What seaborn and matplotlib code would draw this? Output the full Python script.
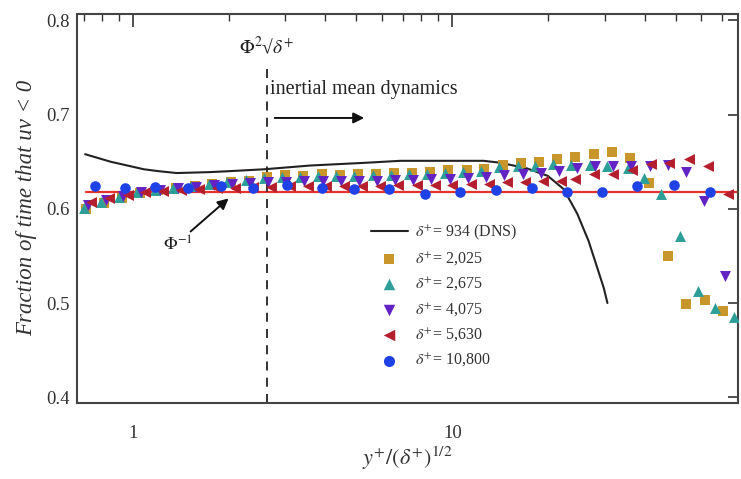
import numpy as np
import pandas as pd
import matplotlib
matplotlib.use("Agg")
import matplotlib.pyplot as plt
import seaborn as sns
from matplotlib.ticker import LogLocator, NullFormatter, FixedLocator, FixedFormatter

sns.set_theme(style="white")
plt.rcParams['font.family'] = ['Liberation Serif', 'DejaVu Serif']
plt.rcParams['mathtext.fontset'] = 'stix'

# ---------------- data ----------------
dns_x = [0.707, 0.85, 1.08, 1.20, 1.37, 1.74, 2.0, 2.57, 3.59, 5.41, 6.87, 9.0, 12.5, 14.1, 17.1, 19.9, 22.3, 24.6, 26.7, 29.8, 30.6]
dns_y = [0.658, 0.650, 0.642, 0.640, 0.638, 0.639, 0.640, 0.642, 0.646, 0.649, 0.651, 0.651, 0.651, 0.649, 0.643, 0.635, 0.621, 0.595, 0.566, 0.516, 0.500]

sq_x = [0.71, 0.81, 0.92, 1.05, 1.20, 1.36, 1.56, 1.77, 2.02, 2.30, 2.63, 2.99, 3.41, 3.89, 4.43,
        5.05, 5.76, 6.57, 7.48, 8.53, 9.72, 11.1, 12.6, 14.4, 16.4, 18.7, 21.3, 24.3, 27.7, 31.7,
        36.1, 41.2, 47.2, 53.8, 61.7, 70.2]
sq_y = [0.600, 0.606, 0.612, 0.617, 0.620, 0.622, 0.624, 0.626, 0.628, 0.630, 0.634, 0.636, 0.635, 0.637, 0.636,
        0.637, 0.637, 0.638, 0.638, 0.639, 0.641, 0.641, 0.642, 0.647, 0.649, 0.650, 0.653, 0.655, 0.658, 0.660,
        0.654, 0.627, 0.550, 0.499, 0.503, 0.491]

tr_x = [0.70, 0.79, 0.90, 1.03, 1.17, 1.33, 1.52, 1.73, 1.97, 2.25, 2.57, 2.92, 3.33, 3.80, 4.33,
        4.93, 5.62, 6.41, 7.31, 8.33, 9.50, 10.8, 12.3, 14.0, 16.0, 18.2, 20.7, 23.6, 26.9, 30.6,
        35.6, 39.7, 44.9, 51.5, 58.6, 66.7, 76.0]
tr_y = [0.601, 0.607, 0.613, 0.618, 0.620, 0.622, 0.624, 0.626, 0.628, 0.631, 0.633, 0.634, 0.634, 0.635, 0.635,
        0.635, 0.636, 0.636, 0.637, 0.637, 0.638, 0.639, 0.640, 0.644, 0.645, 0.646, 0.648, 0.647, 0.647, 0.646,
        0.643, 0.633, 0.616, 0.571, 0.513, 0.495, 0.485]

pu_x = [0.72, 0.82, 0.93, 1.06, 1.21, 1.38, 1.57, 1.79, 2.04, 2.32, 2.65, 3.02, 3.44, 3.92, 4.47,
        5.09, 5.81, 6.62, 7.55, 8.60, 9.80, 11.2, 12.7, 14.5, 16.6, 18.9, 21.5, 24.5, 28.0, 31.9,
        36.4, 41.5, 47.4, 54.1, 61.6, 71.3]
pu_y = [0.604, 0.609, 0.614, 0.618, 0.620, 0.622, 0.623, 0.625, 0.626, 0.627, 0.629, 0.629, 0.630, 0.630, 0.630,
        0.630, 0.630, 0.631, 0.631, 0.632, 0.632, 0.633, 0.634, 0.636, 0.637, 0.638, 0.640, 0.643, 0.645, 0.645,
        0.646, 0.646, 0.647, 0.639, 0.608, 0.529]

rd_x = [0.74, 0.84, 0.96, 1.09, 1.24, 1.41, 1.61, 1.83, 2.09, 2.38, 2.71, 3.09, 3.52, 4.01, 4.57,
        5.21, 5.94, 6.77, 7.72, 8.80, 10.0, 11.4, 13.0, 14.8, 16.9, 19.2, 21.9, 24.3, 27.7, 31.9,
        36.6, 41.8, 47.6, 55.0, 63.3, 73.0]
rd_y = [0.607, 0.611, 0.615, 0.618, 0.619, 0.620, 0.621, 0.622, 0.622, 0.623, 0.623, 0.624, 0.624, 0.624, 0.624,
        0.624, 0.624, 0.625, 0.625, 0.625, 0.625, 0.626, 0.626, 0.628, 0.628, 0.630, 0.630, 0.632, 0.637, 0.637,
        0.641, 0.648, 0.649, 0.653, 0.646, 0.616]

bl_x = [0.76, 0.94, 1.17, 1.48, 1.88, 2.38, 3.04, 3.91, 4.93, 6.35, 8.23, 10.6, 13.7, 17.8, 22.9, 29.5, 38.0, 49.3, 63.9]
bl_y = [0.624, 0.622, 0.623, 0.622, 0.624, 0.622, 0.625, 0.622, 0.621, 0.621, 0.616, 0.618, 0.620, 0.622, 0.618,
        0.618, 0.624, 0.625, 0.618]

phi_inv = 0.618
phi_sq = 2.618

series_labels = [r"$\delta^{+}$= 2,025", r"$\delta^{+}$= 2,675", r"$\delta^{+}$= 4,075",
                 r"$\delta^{+}$= 5,630", r"$\delta^{+}$= 10,800"]
dns_label = r"$\delta^{+}$= 934 (DNS)"

# ---------------- figure ----------------
fig = plt.figure(figsize=(7.41, 4.79), dpi=100)
ax = fig.add_axes([0.104, 0.159, 0.892, 0.812])

# reference lines
ax.plot([0.71, 85], [phi_inv, phi_inv], color="#E8322E", lw=1.6, zorder=1)
ax.plot([phi_sq, phi_sq], [0.394, 0.756], color="#222222", lw=1.3, ls=(0, (5, 4)), zorder=1)

sns.lineplot(x=dns_x, y=dns_y, ax=ax, color="#222222", lw=1.5, sort=False,
             estimator=None, label=dns_label, zorder=3)

specs = [
    (sq_x, sq_y, "s", "#C9962B", 52),
    (tr_x, tr_y, "^", "#2E9E98", 62),
    (pu_x, pu_y, "v", "#6222C4", 62),
    (rd_x, rd_y, "<", "#B51E2C", 62),
    (bl_x, bl_y, "o", "#1F42E6", 58),
]
for (xs, ys, m, c, s), lab in zip(specs, series_labels):
    sns.scatterplot(x=xs, y=ys, ax=ax, marker=m, color=c, s=s, linewidth=0,
                    label=lab, zorder=4)

ax.set_xscale("log")
ax.set_xlim(0.667, 78.5)
ax.set_ylim(0.394, 0.807)

ax.xaxis.set_major_locator(FixedLocator([1, 10]))
ax.xaxis.set_major_formatter(FixedFormatter(["1", "10"]))
ax.xaxis.set_minor_locator(LogLocator(base=10, subs=np.arange(2, 10)))
ax.xaxis.set_minor_formatter(NullFormatter())
ax.set_yticks([0.4, 0.5, 0.6, 0.7, 0.8])
ax.set_yticklabels(["0.4", "0.5", "0.6", "0.7", "0.8"])

ax.tick_params(axis="both", which="both", direction="in", top=True, right=True,
               colors="#333333", labelcolor="#333333", labelsize=13.5)
ax.tick_params(axis="x", which="major", length=9, width=1.2, pad=16)
ax.tick_params(axis="x", which="minor", length=5, width=1.0)
ax.tick_params(axis="y", which="major", length=7, width=1.2, pad=5)
for sp in ax.spines.values():
    sp.set_color("#444444")
    sp.set_linewidth(1.5)

ax.set_ylabel("Fraction of time that uv < 0", fontstyle="italic", fontsize=16.5,
              color="#333333", labelpad=7)
ax.set_xlabel(r"$y^{+}/(\delta^{+})^{1/2}$", fontsize=16, color="#333333", labelpad=2)

# annotations
ax.text(phi_sq, 0.772, r"$\Phi^{2}$√$\delta^{+}$", ha="center", va="center",
        fontsize=14, color="#222222")
ax.text(2.68, 0.727, "inertial mean dynamics", ha="left", va="center",
        fontsize=14.5, color="#222222")
ax.annotate("", xy=(5.4, 0.6965), xytext=(2.72, 0.6965),
            arrowprops=dict(arrowstyle="-|>", color="#111111", lw=1.4,
                            mutation_scale=16))
ax.text(1.38, 0.561, r"$\Phi^{-1}$", ha="center", va="center", fontsize=13, color="#222222")
ax.annotate("", xy=(2.02, 0.613), xytext=(1.49, 0.574),
            arrowprops=dict(arrowstyle="-|>", color="#111111", lw=1.4,
                            mutation_scale=16))

leg = ax.legend(loc="upper left", bbox_to_anchor=(0.435, 0.479), frameon=False,
                fontsize=11.5, labelspacing=0.53, handlelength=2.3, handletextpad=0.45,
                borderaxespad=0, markerscale=1.05)
for t in leg.get_texts():
    t.set_color("#333333")

fig.savefig("out.png", dpi=100)
